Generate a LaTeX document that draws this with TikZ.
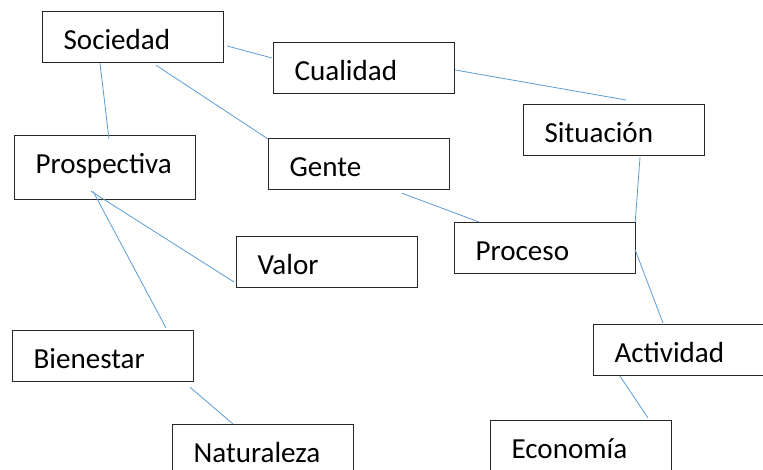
\documentclass[tikz,border=0pt]{standalone}
\usepackage{fontspec}
\setmainfont{Carlito}
\usetikzlibrary{calc}

\begin{document}
\begin{tikzpicture}[x=0.75pt,y=-0.75pt,
    box/.style={draw=black!85,line width=0.9pt,rectangle,anchor=north west,
        minimum width=135.75pt,minimum height=38.25pt,inner xsep=15.75pt,inner ysep=0pt,
        text width=104.25pt,align=left,text height=18.75pt,text depth=0pt,
        font=\fontsize{21.8}{26}\selectfont},
    link/.style={draw={rgb,255:red,91;green,155;blue,213},line width=0.6pt}]
    \useasboundingbox (0,0) rectangle (763,470);
    \clip (0,0) rectangle (763,470);
    % cajas
    \node[box] (soc) at (42,11) {Sociedad};
    \node[box] (cua) at (273,42) {Cualidad};
    \node[box,minimum height=48pt,text depth=9.75pt] (pro) at (14,135) {Prospectiva};
    \node[box] (gen) at (268,138) {Gente};
    \node[box] (sit) at (523,104) {Situación};
    \node[box] (prc) at (454,222) {Proceso};
    \node[box] (val) at (236,236) {Valor};
    \node[box] (bie) at (12,330) {Bienestar};
    \node[box] (nat) at (172,424) {Naturaleza};
    \node[box,minimum width=127.5pt,text width=96pt] (act) at (593,324) {Actividad};
    \node[box] (eco) at (490,420) {Economía};
    % lineas
    \draw[link] ($(soc.north east)+(3,35)$) -- ($(cua.north west)+(-1,16)$);
    \draw[link] ($(cua.north east)+(0,28)$) -- ($(sit.north west)+(103,-4)$);
    \draw[link] ($(soc.south west)+(58,0)$) -- ($(pro.north west)+(95,4)$);
    \draw[link] ($(soc.south west)+(114,2)$) -- ($(gen.north west)+(0,1)$);
    \draw[link] ($(gen.south west)+(134,3)$) -- ($(prc.north west)+(25,0)$);
    \draw[link] ($(sit.south west)+(117,1)$) -- ($(prc.north east)+(-1,0)$);
    \draw[link] ($(prc.north east)+(-1,28)$) -- ($(act.north west)+(70,-1)$);
    \draw[link] ($(pro.south west)+(77,-9)$) -- ($(val.north west)+(-2,46)$);
    \draw[link] ($(pro.south west)+(79,-9)$) -- ($(bie.north west)+(154,-2)$);
    \draw[link] ($(bie.south west)+(178,5)$) -- ($(nat.north west)+(61,0)$);
    \draw[link] ($(act.south west)+(27,0)$) -- ($(eco.north west)+(158,-2)$);
\end{tikzpicture}
\end{document}
